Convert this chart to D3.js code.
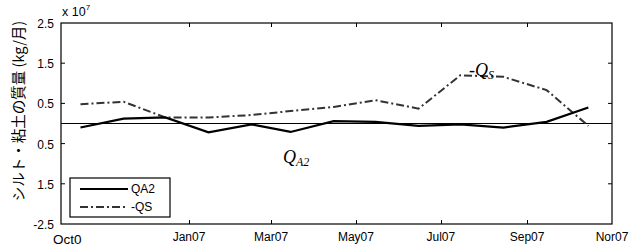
<!DOCTYPE html>
<html>
<head>
<meta charset="utf-8">
<script src="https://cdn.jsdelivr.net/npm/d3@7"></script>
<style>
  body { margin: 0; background: #fff; }
  svg { display: block; font-family: "Liberation Sans", Arial, sans-serif; }
</style>
</head>
<body>
<svg id="chart" width="629" height="248"></svg>
<script>
// monthly values, plotted at mid-month (units of 10^7 kg/month)
const months = ["2006-10-15", "2006-11-15", "2006-12-15", "2007-01-15", "2007-02-15", "2007-03-15",
    "2007-04-15", "2007-05-15", "2007-06-15", "2007-07-15", "2007-08-15", "2007-09-15", "2007-10-15"];
const qa2 = [-0.10, 0.12, 0.15, -0.22, -0.02, -0.21, 0.06, 0.04, -0.06, -0.02, -0.10, 0.04, 0.40];
const negQs = [0.48, 0.54, 0.15, 0.15, 0.21, 0.31, 0.41, 0.58, 0.37, 1.20, 1.16, 0.83, -0.06];

const xTickDates = ["2006-10-01", "2007-01-01", "2007-03-01", "2007-05-01", "2007-07-01", "2007-09-01", "2007-11-01"];
const xTickLabels = ["Oct0", "Jan07", "Mar07", "May07", "Jul07", "Sep07", "Nor07"];
const yTicks = [2.5, 1.5, 0.5, -0.5, -1.5, -2.5];
const yTickLabels = ["2.5", "1.5", "0.5", "0.5", "1.5", "-2.5"];

const svg = d3.select("#chart");
const margin = { left: 61, right: 17, top: 23, bottom: 24 };
const W = 629, H = 248;
const parse = d3.timeParse("%Y-%m-%d");

const x = d3.scaleTime()
    .domain([parse("2006-10-01"), parse("2007-11-01")])
    .range([margin.left, W - margin.right]);
const y = d3.scaleLinear()
    .domain([-2.5, 2.5])
    .range([H - margin.bottom, margin.top]);

const g = svg.append("g");

// zero line
g.append("line")
    .attr("x1", x.range()[0]).attr("x2", x.range()[1])
    .attr("y1", y(0)).attr("y2", y(0))
    .attr("stroke", "#000").attr("stroke-width", 1);

// inner ticks (left/right, top/bottom)
const innerY = yTicks.filter(v => Math.abs(v) < 2.5);
innerY.forEach(v => {
    g.append("line").attr("x1", x.range()[0]).attr("x2", x.range()[0] + 4)
        .attr("y1", y(v)).attr("y2", y(v)).attr("stroke", "#000");
    g.append("line").attr("x1", x.range()[1]).attr("x2", x.range()[1] - 4)
        .attr("y1", y(v)).attr("y2", y(v)).attr("stroke", "#000");
});
xTickDates.slice(1, -1).forEach(d => {
    const px = Math.round(x(parse(d))) + 0.5;
    g.append("line").attr("x1", px).attr("x2", px)
        .attr("y1", y.range()[0]).attr("y2", y.range()[0] - 4).attr("stroke", "#000");
    g.append("line").attr("x1", px).attr("x2", px)
        .attr("y1", y.range()[1]).attr("y2", y.range()[1] + 4).attr("stroke", "#000");
});

// series
const pts = months.map(parse);
const line = d3.line().x((d, i) => x(pts[i])).y(d => y(d));

g.append("path").datum(negQs)
    .attr("d", line)
    .attr("fill", "none")
    .attr("stroke", "#333")
    .attr("stroke-width", 2)
    .attr("stroke-dasharray", "8,3,2,3");

g.append("path").datum(qa2)
    .attr("d", line)
    .attr("fill", "none")
    .attr("stroke", "#000")
    .attr("stroke-width", 2.2);

// frame
g.append("rect")
    .attr("x", x.range()[0]).attr("y", y.range()[1])
    .attr("width", x.range()[1] - x.range()[0])
    .attr("height", y.range()[0] - y.range()[1])
    .attr("fill", "none").attr("stroke", "#000").attr("stroke-width", 1.2);

// y tick labels
yTicks.forEach((v, i) => {
    g.append("text")
        .attr("x", 54).attr("y", y(v) + 5)
        .attr("text-anchor", "end")
        .attr("font-size", 12)
        .text(yTickLabels[i]);
});

// x tick labels
xTickDates.forEach((d, i) => {
    g.append("text")
        .attr("x", i === 0 ? 53 : x(parse(d)))
        .attr("y", i === 0 ? 244 : 241)
        .attr("text-anchor", i === 0 ? "start" : "middle")
        .attr("font-size", i === 0 ? 13.5 : 12)
        .text(xTickLabels[i]);
});

// exponent
const ex = g.append("text").attr("x", 62).attr("y", 16).attr("font-size", 12.5);
ex.append("tspan").text("x 10");
ex.append("tspan").attr("dy", -6).attr("font-size", 8).text("7");

// y axis title
g.append("text")
    .attr("transform", "translate(24,111) rotate(-90)")
    .attr("text-anchor", "middle")
    .attr("font-family", "'Noto Sans CJK JP', sans-serif")
    .attr("font-size", 14.5)
    .text("シルト・粘土の質量 (kg/月)");

// annotations
const serif = "'Liberation Serif', 'Times New Roman', serif";
const aQs = g.append("text").attr("x", 469).attr("y", 76)
    .attr("font-family", serif).attr("font-style", "italic").attr("font-size", 18);
aQs.append("tspan").text("-Q");
aQs.append("tspan").attr("dy", 3).attr("font-size", 12).text("S");

const aQa = g.append("text").attr("x", 283).attr("y", 163)
    .attr("font-family", serif).attr("font-style", "italic").attr("font-size", 18);
aQa.append("tspan").text("Q");
aQa.append("tspan").attr("dy", 3).attr("font-size", 12).text("A2");

// legend
const lg = g.append("g");
lg.append("rect").attr("x", 70).attr("y", 178).attr("width", 100).attr("height", 39)
    .attr("fill", "#fff").attr("stroke", "#000").attr("stroke-width", 1.2);
const legendItems = [
    { label: "QA2", y: 189, color: "#000", dash: null },
    { label: "-QS", y: 207, color: "#333", dash: "8,3,2,3" }
];
legendItems.forEach(it => {
    lg.append("line").attr("x1", 80).attr("x2", 128).attr("y1", it.y).attr("y2", it.y)
        .attr("stroke", it.color).attr("stroke-width", 2)
        .attr("stroke-dasharray", it.dash);
    lg.append("text").attr("x", 131).attr("y", it.y + 4)
        .attr("font-size", 12).text(it.label);
});
</script>
</body>
</html>
